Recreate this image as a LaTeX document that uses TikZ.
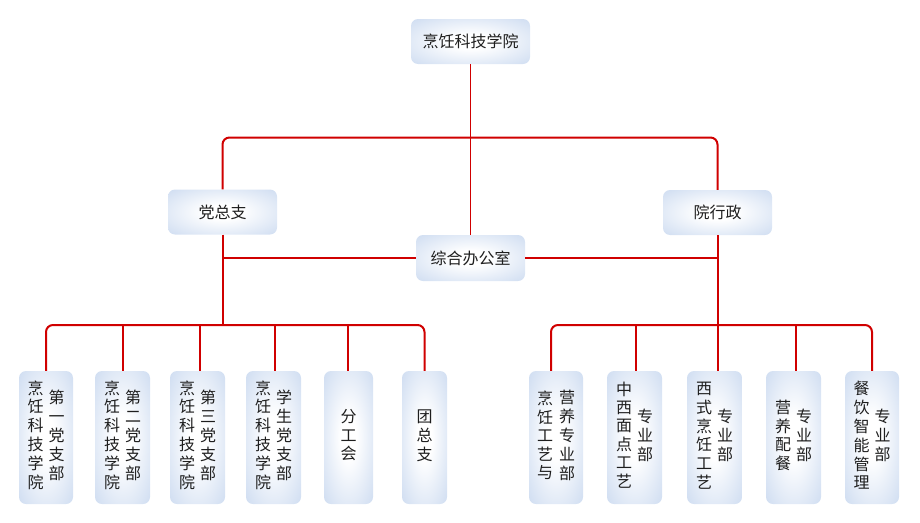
\documentclass[tikz,border=0pt]{standalone}
\usepackage{fontspec}
\setmainfont{Noto Sans CJK SC}
\usetikzlibrary{calc}
\definecolor{boxblue}{RGB}{203,218,240}
\definecolor{linered}{RGB}{208,0,0}
\definecolor{txt}{RGB}{30,30,30}
\pgfdeclareradialshading{boxshade}{\pgfpoint{0bp}{0bp}}{color(0bp)=(white); color(8bp)=(white); color(38bp)=(boxblue); color(50bp)=(boxblue)}
\newcommand\vc[1]{\begin{tabular}{@{}c@{}}#1\end{tabular}}
\begin{document}
\begin{tikzpicture}[x=1pt,y=-1pt,
  box/.style={shade, shading=boxshade, rounded corners=7pt, inner sep=0pt, align=center,
    text=txt, font=\fontsize{16pt}{18.3pt}\selectfont},
  hbox/.style={box, minimum width=109pt, minimum height=45pt},
  vbox/.style={box, minimum height=133pt},
  conn/.style={draw=linered, line width=2pt, rounded corners=7pt},
  thinconn/.style={draw=linered, line width=1.5pt}]
\useasboundingbox (0,0) rectangle (920,522);

% nodes
\node[hbox, minimum width=119pt] (top) at (470.5,41.5) {烹饪科技学院};
\node[hbox] (dzz) at (222.5,212) {党总支};
\node[hbox] (yxz) at (717.5,212.5) {院行政};
\node[hbox, minimum height=46pt] (zh) at (470.5,258) {综合办公室};

\node[vbox, minimum width=54pt] (b1) at (46,437.5) {\vc{烹\\饪\\科\\技\\学\\院}\hspace{5pt}\vc{第\\一\\党\\支\\部}};
\node[vbox, minimum width=55pt] (b2) at (122.5,437.5) {\vc{烹\\饪\\科\\技\\学\\院}\hspace{5pt}\vc{第\\二\\党\\支\\部}};
\node[vbox, minimum width=55pt] (b3) at (197.5,437.5) {\vc{烹\\饪\\科\\技\\学\\院}\hspace{5pt}\vc{第\\三\\党\\支\\部}};
\node[vbox, minimum width=55pt] (b4) at (273.5,437.5) {\vc{烹\\饪\\科\\技\\学\\院}\hspace{5pt}\vc{学\\生\\党\\支\\部}};
\node[vbox, minimum width=49pt] (b5) at (348.5,437.5) {\vc{分\\工\\会}};
\node[vbox, minimum width=45pt] (b6) at (424.5,437.5) {\vc{团\\总\\支}};

\node[vbox, minimum width=54pt] (b7) at (556,437.5) {\vc{烹\\饪\\工\\艺\\与}\hspace{6pt}\vc{营\\养\\专\\业\\部}};
\node[vbox, minimum width=55pt] (b8) at (634.5,437.5) {\vc{中\\西\\面\\点\\工\\艺}\hspace{5pt}\vc{专\\业\\部}};
\node[vbox, minimum width=55pt] (b9) at (714.5,437.5) {\vc{西\\式\\烹\\饪\\工\\艺}\hspace{5pt}\vc{专\\业\\部}};
\node[vbox, minimum width=55pt] (b10) at (793.5,437.5) {\vc{营\\养\\配\\餐}\hspace{5pt}\vc{专\\业\\部}};
\node[vbox, minimum width=54pt] (b11) at (872,437.5) {\vc{餐\\饮\\智\\能\\管\\理}\hspace{5pt}\vc{专\\业\\部}};

% connectors
\coordinate (hb) at (470.5,137.5);
\coordinate (lb) at (222.5,325);
\coordinate (rb) at (717.5,325);
\coordinate (d3) at (200,325);
\coordinate (d4) at (275,325);
\coordinate (d5) at (348,325);
\coordinate (d7) at (551,325);
\coordinate (d8) at (636,325);
\coordinate (d10) at (796,325);
\coordinate (d11) at (872,325);

\draw[thinconn] (top.south) -- (zh.north);
\draw[conn] (dzz.north) |- (hb) -| (yxz.north);
\draw[conn] (zh.west) -- (zh.west -| dzz.south);
\draw[conn] (zh.east) -- (zh.east -| yxz.south);
\draw[conn] (dzz.south) -- (lb);
\draw[conn] (yxz.south) -- (yxz.south |- b9.north);

\draw[conn] (b1.north) |- (lb) -| (b6.north);
\draw[conn] (b2.north) -- (b2.north |- lb);
\draw[conn] (d3) -- (d3 |- b3.north);
\draw[conn] (d4) -- (d4 |- b4.north);
\draw[conn] (d5) -- (d5 |- b5.north);

\draw[conn] (d7 |- b7.north) |- (rb) -| (d11 |- b11.north);
\draw[conn] (d8) -- (d8 |- b8.north);
\draw[conn] (d10) -- (d10 |- b10.north);
\end{tikzpicture}
\end{document}
